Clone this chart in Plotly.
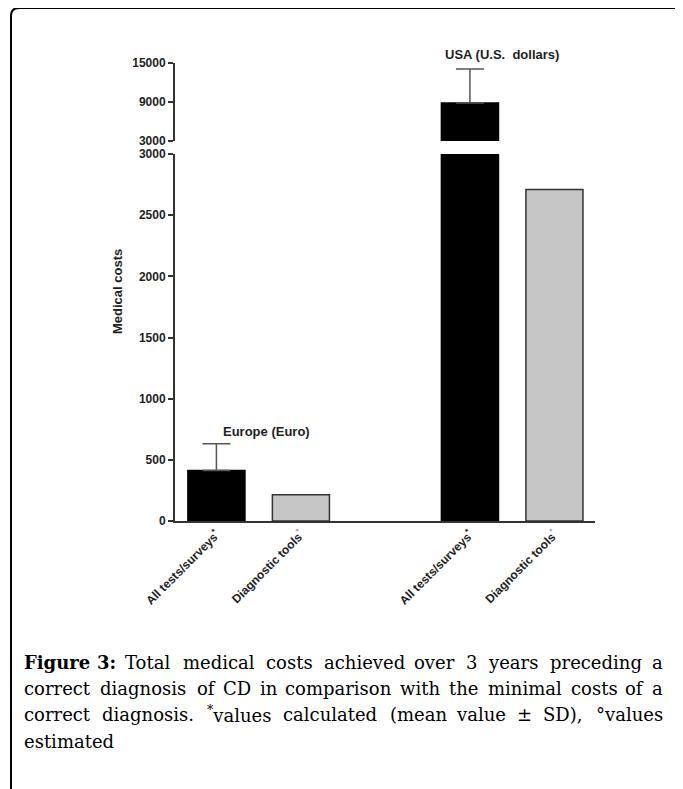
import re
import plotly.graph_objects as go

# ---------------- data ----------------
group_labels = ["Europe (Euro)", "USA (U.S.\u00a0 dollars)"]
bar_labels = ["All tests/surveys<sup>*</sup>",
              "Diagnostic tools<sup><span style='color:#8a8a8a'>°</span></sup>"]
all_tests_mean = [413, 8850]      # Europe, USA
all_tests_sd = [218, 5240]
diagnostic_tools = [215, 2710]    # Europe, USA
lower_ticks = [0, 500, 1000, 1500, 2000, 2500, 3000]
upper_ticks = [3000, 9000, 15000]
upper_tick_text = ["3000", "9000", "15000"]
caption_lines = [
    "<b>Figure</b> <b>3:</b> Total medical costs achieved over 3 years preceding a",
    "correct diagnosis of CD in comparison with the minimal costs of a",
    "correct diagnosis. <sup>*</sup>values calculated (mean value ± SD), °values",
    "estimated",
]

# ---------------- layout geometry (screen pixels; page body has 8px margin) ----------------
OFF = 8
W, H = 683 - OFF, 789 - OFF
L = 175 - OFF
T = 63 - OFF
PLOT_RIGHT = 595 - OFF
PLOT_BOTTOM = 521 - OFF
R = W - PLOT_RIGHT
B = H - PLOT_BOTTOM
PW, PH = PLOT_RIGHT - L, PLOT_BOTTOM - T


def px_x(px):
    return (px - OFF - L) / PW


def px_y(py):
    return (PLOT_BOTTOM - (py - OFF)) / PH


x_all = [0, 3]
x_diag = [1, 4]
bw = 0.675
AX = "#333333"
TXT = "#1e1e1e"

fig = go.Figure()
# lower panel
fig.add_trace(go.Bar(x=[x_all[0]], y=[all_tests_mean[0]], width=bw,
                     marker=dict(color="black", line=dict(color="black", width=1.5)),
                     error_y=dict(type="data", symmetric=False, array=[all_tests_sd[0]],
                                  arrayminus=[0], color="#555555", thickness=1.5, width=14),
                     xaxis="x", yaxis="y", showlegend=False))
fig.add_trace(go.Bar(x=[x_all[1]], y=[all_tests_mean[1]], width=bw,
                     marker=dict(color="black", line=dict(color="black", width=1.5)),
                     xaxis="x", yaxis="y", showlegend=False))
fig.add_trace(go.Bar(x=x_diag, y=diagnostic_tools, width=bw,
                     marker=dict(color="#c6c6c6", line=dict(color="#333333", width=1.5)),
                     xaxis="x", yaxis="y", showlegend=False))
# upper (broken-axis) panel
fig.add_trace(go.Bar(x=[x_all[1]], y=[all_tests_mean[1]], width=bw,
                     marker=dict(color="black", line=dict(color="black", width=1.5)),
                     error_y=dict(type="data", symmetric=False, array=[all_tests_sd[1]],
                                  arrayminus=[0], color="#555555", thickness=1.5, width=14),
                     xaxis="x", yaxis="y2", showlegend=False))

tickfont = dict(family="Liberation Sans, Arial", size=12, color=TXT, weight="bold")
fig.update_layout(
    width=W, height=H,
    margin=dict(l=L, r=R, t=T, b=B, autoexpand=False),
    paper_bgcolor="white", plot_bgcolor="rgba(0,0,0,0)",
    barmode="overlay",
    xaxis=dict(range=[-0.49, 4.48], tickvals=[x_all[0], x_diag[0], x_all[1], x_diag[1]],
               ticktext=[bar_labels[0], bar_labels[1], bar_labels[0], bar_labels[1]],
               tickangle=-45, tickfont=tickfont, showline=True, linecolor=AX, linewidth=2,
               ticks="", showgrid=False, zeroline=False, anchor="y"),
    yaxis=dict(domain=[0, px_y(154)], range=[0, 3000], tickvals=lower_ticks,
               tickfont=tickfont, showline=True, linecolor=AX, linewidth=2,
               ticks="outside", ticklen=5, tickwidth=2, tickcolor=AX,
               showgrid=False, zeroline=False, anchor="x"),
    yaxis2=dict(domain=[px_y(141), 1], range=[3000, 15000], tickvals=upper_ticks,
                ticktext=upper_tick_text,
                tickfont=tickfont, showline=True, linecolor=AX, linewidth=2,
                ticks="outside", ticklen=5, tickwidth=2, tickcolor=AX,
                showgrid=False, zeroline=False, anchor="x"),
)

annots = []
lblfont = dict(family="Liberation Sans, Arial", size=13, color=TXT, weight="bold")
annots.append(dict(text=group_labels[0], x=px_x(266), y=px_y(431), xref="paper", yref="paper",
                   showarrow=False, font=lblfont, xanchor="center", yanchor="middle"))
annots.append(dict(text=group_labels[1], x=px_x(502), y=px_y(54), xref="paper", yref="paper",
                   showarrow=False, font=lblfont, xanchor="center", yanchor="middle"))
annots.append(dict(text="Medical costs", x=px_x(117), y=px_y(292), xref="paper", yref="paper",
                   showarrow=False, font=lblfont, textangle=-90, xanchor="center", yanchor="middle"))

# ---- justified caption, word by word ----
wt = {'a': .596, 'b': .640, 'c': .560, 'd': .640, 'e': .592, 'f': .370, 'g': .640, 'h': .644,
      'i': .320, 'j': .311, 'k': .600, 'l': .320, 'm': .948, 'n': .644, 'o': .602, 'p': .640,
      'q': .640, 'r': .478, 's': .513, 't': .402, 'u': .644, 'v': .565, 'w': .856, 'x': .564,
      'y': .565, 'z': .527, ' ': .318, '.': .318, ',': .318, ':': .337, '(': .390, ')': .390,
      '*': .300, '°': .500, '±': .838, 'C': .734, 'D': .830, 'S': .685, 'T': .674, 'F': .716}


def word_w(word, size):
    bold = word.startswith("<b>")
    plain = re.sub(r"<[^>]+>", "", word)
    w = sum(wt.get(c, 0.64 if c.isdigit() else 0.6) for c in plain) * size
    return w * (1.03 if bold else 1.028)


cap_size = 18
left_px, right_px = 22, 665
line_y = [662, 688, 714, 741]
capfont = dict(family="DejaVu Serif", size=cap_size, color="black")
for i, line in enumerate(caption_lines):
    words = line.split(" ")
    widths = [word_w(w, cap_size) for w in words]
    if i == len(caption_lines) - 1 or len(words) == 1:
        annots.append(dict(text=line, x=px_x(left_px), y=px_y(line_y[i]), xref="paper",
                           yref="paper", showarrow=False, xanchor="left", yanchor="middle",
                           font=capfont))
        continue
    n = len(words)
    gap = (right_px - left_px - sum(widths)) / (n - 1)
    half = (n + 1) // 2
    # left half: measured from the left edge
    xpos = left_px
    for j in range(half):
        annots.append(dict(text=words[j], x=px_x(xpos), y=px_y(line_y[i]), xref="paper",
                           yref="paper", showarrow=False, xanchor="left", yanchor="middle",
                           font=capfont))
        xpos += widths[j] + gap
    # right half: measured from the right edge
    xpos = right_px
    for j in range(n - 1, half - 1, -1):
        annots.append(dict(text=words[j], x=px_x(xpos), y=px_y(line_y[i]), xref="paper",
                           yref="paper", showarrow=False, xanchor="right", yanchor="middle",
                           font=capfont))
        xpos -= widths[j] + gap

fig.update_layout(annotations=annots)

# outer frame with rounded top-left corner
x0, y0, rr = px_x(11), px_y(8), 8
fig.add_shape(type="path", xref="paper", yref="paper",
              path=(f"M {x0},{px_y(800)} L {x0},{px_y(8 + rr)} "
                    f"Q {x0},{y0} {px_x(11 + rr)},{y0} L {px_x(690)},{y0}"),
              line=dict(color="black", width=2))

fig.write_html("out.html")
